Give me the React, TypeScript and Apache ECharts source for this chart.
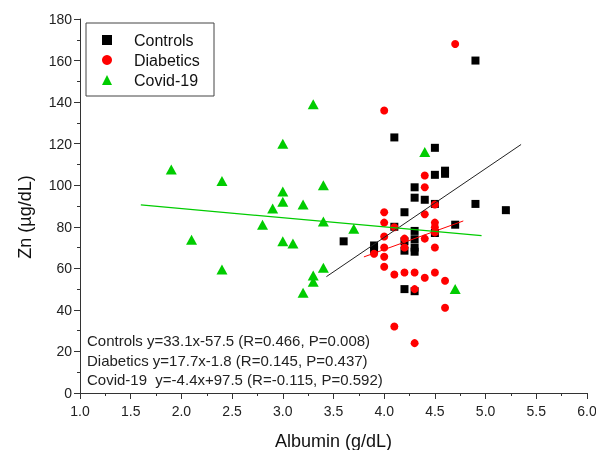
import React, { useEffect, useRef } from "react";
import * as echarts from "echarts";

const controls: [number, number][] = [
  [4.9, 160], [4.1, 123], [4.5, 118], [4.6, 107], [4.5, 105], [4.6, 105.5],
  [4.3, 99], [4.3, 94], [4.4, 93], [4.5, 91], [4.9, 91], [5.2, 88], [4.2, 87],
  [4.1, 80], [4.3, 78], [4.7, 81], [4.5, 77], [3.6, 73], [3.9, 71], [3.9, 69],
  [4.2, 73], [4.2, 68.5], [4.3, 74], [4.3, 70], [4.3, 68], [4.2, 50], [4.3, 49],
];

const diabetics: [number, number][] = [
  [4.7, 168], [4.0, 136], [4.4, 104.7], [4.4, 99], [4.5, 90.7], [4.0, 87],
  [4.4, 86], [4.0, 82], [4.1, 79.8], [4.5, 82], [4.5, 79.8], [4.5, 77.3],
  [4.0, 75.3], [4.2, 74.3], [4.4, 74.3], [4.2, 70], [4.0, 70], [4.5, 70],
  [3.9, 67], [4.0, 65.6], [4.0, 60.8], [4.1, 57], [4.2, 58], [4.3, 58],
  [4.4, 55.5], [4.5, 58], [4.6, 54], [4.3, 50], [4.6, 41], [4.1, 32], [4.3, 24],
];

const covid: [number, number][] = [
  [3.3, 139], [3.0, 120], [1.9, 107.6], [2.4, 102], [3.4, 100], [3.0, 97],
  [3.0, 92], [3.2, 90.7], [2.9, 88.8], [2.8, 81], [3.4, 82.5], [2.1, 73.8],
  [3.0, 73], [3.1, 72], [2.4, 59.4], [3.4, 60.3], [3.3, 56.5], [3.3, 53.6],
  [3.2, 48.3], [3.7, 79], [4.7, 50], [4.4, 116],
];

const controlsFit: [number, number][] = [[3.43, 56.0], [5.35, 119.6]];
const diabeticsFit: [number, number][] = [[3.8, 65.5], [4.78, 82.8]];
const covidFit: [number, number][] = [[1.6, 90.5], [4.96, 75.7]];

const seriesNames = ["Controls", "Diabetics", "Covid-19"];
const xTitle = "Albumin (g/dL)";
const yTitle = "Zn (µg/dL)";
const annotations = [
  "Controls y=33.1x-57.5 (R=0.466, P=0.008)",
  "Diabetics y=17.7x-1.8 (R=0.145, P=0.437)",
  "Covid-19  y=-4.4x+97.5 (R=-0.115, P=0.592)",
];

const FONT = "Liberation Sans, Arial, sans-serif";

export default function App() {
  const ref = useRef<HTMLDivElement>(null);
  useEffect(() => {
    document.body.style.margin = "0";
    document.body.style.overflow = "hidden";
    const chart = echarts.init(ref.current!, null, { renderer: "svg" });
    const axisCommon = {
      axisLine: { show: true, lineStyle: { color: "#333", width: 1 } },
      axisTick: { show: true, inside: false, length: 6, lineStyle: { color: "#333" } },
      minorTick: { show: true, splitNumber: 2, length: 3, lineStyle: { color: "#333" } },
      splitLine: { show: false },
    };
    chart.setOption({
      animation: false,
      grid: {
        left: 80,
        right: 9,
        top: 19,
        bottom: 57,
        containLabel: false,
        outerBoundsMode: "none",
      },
      xAxis: {
        type: "value",
        min: 1,
        max: 6,
        interval: 0.5,
        name: xTitle,
        nameLocation: "middle",
        nameGap: 39,
        nameTextStyle: { fontFamily: FONT, fontSize: 18, color: "#111" },
        ...axisCommon,
        axisLabel: {
          margin: 11,
          fontFamily: FONT,
          fontSize: 14,
          color: "#222",
          formatter: (v: number) => v.toFixed(1),
        },
      },
      yAxis: {
        type: "value",
        min: 0,
        max: 180,
        interval: 20,
        ...axisCommon,
        axisLabel: { margin: 8, fontFamily: FONT, fontSize: 14, color: "#222" },
      },
      legend: {
        data: seriesNames,
        orient: "vertical",
        left: 102,
        top: 32,
        padding: 0,
        itemWidth: 10,
        itemHeight: 10,
        itemGap: 4,
        textStyle: {
          fontFamily: FONT,
          fontSize: 16,
          color: "#111",
          lineHeight: 16,
          padding: [0, 0, 0, 17],
        },
      },
      graphic: [
        {
          type: "rect",
          shape: { x: 86, y: 23, width: 128, height: 73 },
          style: { fill: "none", stroke: "#444", lineWidth: 1 },
        },
        {
          type: "text",
          x: 25,
          y: 217,
          rotation: Math.PI / 2,
          style: {
            text: yTitle,
            fontFamily: FONT,
            fontSize: 18,
            fill: "#111",
            align: "center",
            verticalAlign: "middle",
          },
        },
        ...annotations.map((t, i) => ({
          type: "text",
          left: 87,
          top: 333 + i * 19.5,
          style: { text: t, fontFamily: FONT, fontSize: 15, fill: "#222" },
        })),
      ],
      series: [
        {
          name: "Controls fit",
          type: "line",
          data: controlsFit,
          symbol: "none",
          lineStyle: { color: "#222", width: 1 },
          silent: true,
        },
        {
          name: "Diabetics fit",
          type: "line",
          data: diabeticsFit,
          symbol: "none",
          lineStyle: { color: "#ff0000", width: 1 },
          silent: true,
        },
        {
          name: "Covid-19 fit",
          type: "line",
          data: covidFit,
          symbol: "none",
          lineStyle: { color: "#00cc00", width: 1.2 },
          silent: true,
        },
        {
          name: "Controls",
          type: "scatter",
          data: controls,
          symbol: "rect",
          symbolSize: 8,
          itemStyle: { color: "#000", opacity: 1 },
        },
        {
          name: "Diabetics",
          type: "scatter",
          data: diabetics,
          symbol: "circle",
          symbolSize: 8,
          itemStyle: { color: "#ff0000", opacity: 1 },
        },
        {
          name: "Covid-19",
          type: "scatter",
          data: covid,
          symbol: "triangle",
          symbolSize: [11, 10],
          itemStyle: { color: "#00cc00", opacity: 1 },
        },
      ],
    });
    return () => chart.dispose();
  }, []);
  return (
    <div
      ref={ref}
      style={{ position: "fixed", left: 0, top: 0, width: 596, height: 450 }}
    />
  );
}
